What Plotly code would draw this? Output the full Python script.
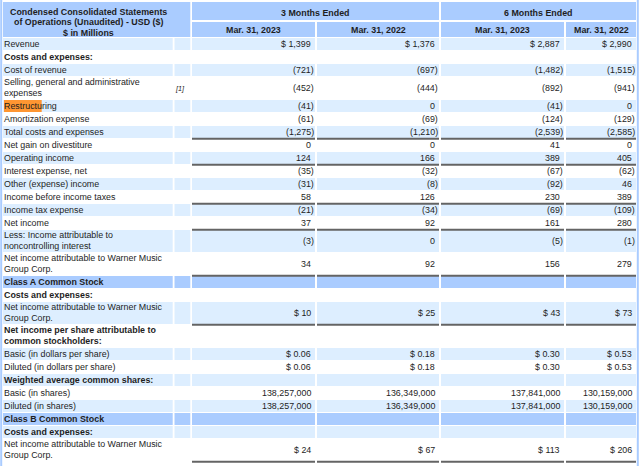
import plotly.graph_objects as go

# ---------------- data ----------------
labels = [
    "Revenue",
    "Costs and expenses:",
    "Cost of revenue",
    "Selling, general and administrative\nexpenses",
    "Restructuring",
    "Amortization expense",
    "Total costs and expenses",
    "Net gain on divestiture",
    "Operating income",
    "Interest expense, net",
    "Other (expense) income",
    "Income before income taxes",
    "Income tax expense",
    "Net income",
    "Less: Income attributable to\nnoncontrolling interest",
    "Net income attributable to Warner Music\nGroup Corp.",
    "Class A Common Stock",
    "Costs and expenses:",
    "Net income attributable to Warner Music\nGroup Corp.",
    "Net income per share attributable to\ncommon stockholders:",
    "Basic (in dollars per share)",
    "Diluted (in dollars per share)",
    "Weighted average common shares:",
    "Basic (in shares)",
    "Diluted (in shares)",
    "Class B Common Stock",
    "Costs and expenses:",
    "Net income attributable to Warner Music\nGroup Corp.",
]

col_3m_2023 = [1399, None, -721, -452, -41, -61, -1275, 0, 124, -35, -31, 58, -21, 37, -3, 34,
               None, None, 10, None, 0.06, 0.06, None, 138257000, 138257000, None, None, 24]
col_3m_2022 = [1376, None, -697, -444, 0, -69, -1210, 0, 166, -32, -8, 126, -34, 92, 0, 92,
               None, None, 25, None, 0.18, 0.18, None, 136349000, 136349000, None, None, 67]
col_6m_2023 = [2887, None, -1482, -892, -41, -124, -2539, 41, 389, -67, -92, 230, -69, 161, -5, 156,
               None, None, 43, None, 0.30, 0.30, None, 137841000, 137841000, None, None, 113]
col_6m_2022 = [2990, None, -1515, -941, 0, -129, -2585, 0, 405, -62, 46, 389, -109, 280, -1, 279,
               None, None, 73, None, 0.53, 0.53, None, 130159000, 130159000, None, None, 206]

bold_rows = [1, 16, 17, 19, 22, 25, 26]
class_rows = [16, 25]
dollar_rows = [0, 18, 20, 21, 27]
decimal_rows = [20, 21]
underline_rows = [6, 8, 11, 13, 15, 18, 27]
footnotes = {3: "[1]"}
highlight = {4: "Restructu"}

title_lines = ["Condensed Consolidated Statements", "of Operations (Unaudited) - USD ($)", "$ in Millions"]
period_headers = ["3 Months Ended", "6 Months Ended"]
date_headers = ["Mar. 31, 2023", "Mar. 31, 2022", "Mar. 31, 2023", "Mar. 31, 2022"]
columns = [col_3m_2023, col_3m_2022, col_6m_2023, col_6m_2022]

# ---------------- styles / layout ----------------
W, H = 640, 466
FONT = "Liberation Sans, Arial, sans-serif"
FS = 8.9
TXT = "#1e1e1e"
HDR = "#aaccff"
ALT = "#ddeeff"
LINE = "#646464"

col_x = [(3, 172.7), (174.5, 190.3), (192, 315), (317, 439), (441, 564), (566, 636)]
HEAD_TOP, HEAD_MID1, HEAD_MID2, BODY_TOP = 2, 20, 22, 38
PITCH1, PITCH2 = 13, 23

shapes = []
ann = []


def rect(x0, x1, y0, y1, color):
    shapes.append(dict(type="rect", xref="x", yref="y", x0=x0, x1=x1, y0=y0, y1=y1,
                       fillcolor=color, line=dict(width=0), layer="below"))


def text(x, y, s, anchor="left", bold=False, size=FS, italic=False, color=TXT):
    if bold:
        s = "<b>" + s + "</b>"
    if italic:
        s = "<i>" + s + "</i>"
    ann.append(dict(x=x, y=y, xref="x", yref="y", text=s, showarrow=False,
                    xanchor=anchor, yanchor="middle", borderpad=0, borderwidth=0,
                    font=dict(family=FONT, size=size, color=color)))


def fmt(v, row):
    if v is None:
        return ""
    if row in decimal_rows:
        s = f"{abs(v):,.2f}"
    else:
        s = f"{abs(v):,.0f}"
    if row in dollar_rows:
        s = "$ " + s
    if v < 0:
        s = "(" + s + ")"
    return s


# header
rect(col_x[0][0], col_x[1][1], HEAD_TOP, BODY_TOP - 1, HDR)
for i, ln in enumerate(title_lines):
    text(88, 12.3 + i * 10.1, ln, anchor="center", bold=True)
for p, name in enumerate(period_headers):
    a, b = col_x[2 + 2 * p][0], col_x[3 + 2 * p][1]
    rect(a, b, HEAD_TOP, HEAD_MID1, HDR)
    text((a + b) / 2, 12.8, name, anchor="center", bold=True)
for c, name in enumerate(date_headers):
    a, b = col_x[2 + c]
    rect(a, b, HEAD_MID2, BODY_TOP - 1, HDR)
    text((a + b) / 2, 30, name, anchor="center", bold=True)

# body
y = BODY_TOP
for r, lab in enumerate(labels):
    lines = lab.split("\n")
    pitch = PITCH1 if len(lines) == 1 else PITCH2
    y0, y1 = y, y + pitch - 1
    yc = (y0 + y1) / 2
    if r in class_rows:
        color = HDR
    elif r % 2 == 0:
        color = ALT
    else:
        color = None
    if color:
        for (a, b) in col_x:
            rect(a, b, y0, y1, color)
    if r in highlight:
        shapes.append(dict(type="rect", xref="x", yref="y", x0=4, x1=41.7, y0=y0, y1=y1,
                           fillcolor="#ff9632", line=dict(width=0), layer="below"))
    if len(lines) == 1:
        text(4.3, yc, lines[0], bold=r in bold_rows)
    else:
        text(4.3, yc - 5.6, lines[0], bold=r in bold_rows)
        text(4.3, yc + 5.4, lines[1], bold=r in bold_rows)
    if r in footnotes:
        text(174.5, yc, footnotes[r], italic=True, size=7.2)
    for c, col in enumerate(columns):
        v = col[r]
        if v is None:
            continue
        right = col_x[2 + c][1] - 1.2 if v < 0 else col_x[2 + c][1] - 4.0
        text(right, yc, fmt(v, r), anchor="right")
        if r in underline_rows:
            shapes.append(dict(type="line", xref="x", yref="y", x0=col_x[2 + c][0],
                               x1=col_x[2 + c][1], y0=y + pitch - 0.3, y1=y + pitch - 0.3,
                               line=dict(color=LINE, width=2)))
    y += pitch

# outer border
shapes.append(dict(type="line", xref="x", yref="y", x0=1.2, x1=1.2, y0=0, y1=H,
                   line=dict(color=HDR, width=2)))
shapes.append(dict(type="line", xref="x", yref="y", x0=637.8, x1=637.8, y0=0, y1=H,
                   line=dict(color=HDR, width=2)))

fig = go.Figure()
fig.update_layout(
    width=W, height=H, margin=dict(l=0, r=0, t=0, b=0),
    paper_bgcolor="white", plot_bgcolor="white",
    xaxis=dict(range=[0, W], visible=False, fixedrange=True),
    yaxis=dict(range=[H, 0], visible=False, fixedrange=True),
    shapes=shapes, annotations=ann, showlegend=False,
)
fig.write_html(
    "out.html",
    config={"displayModeBar": False},
    post_script="document.body.style.margin='0';document.body.style.overflow='hidden';",
)
